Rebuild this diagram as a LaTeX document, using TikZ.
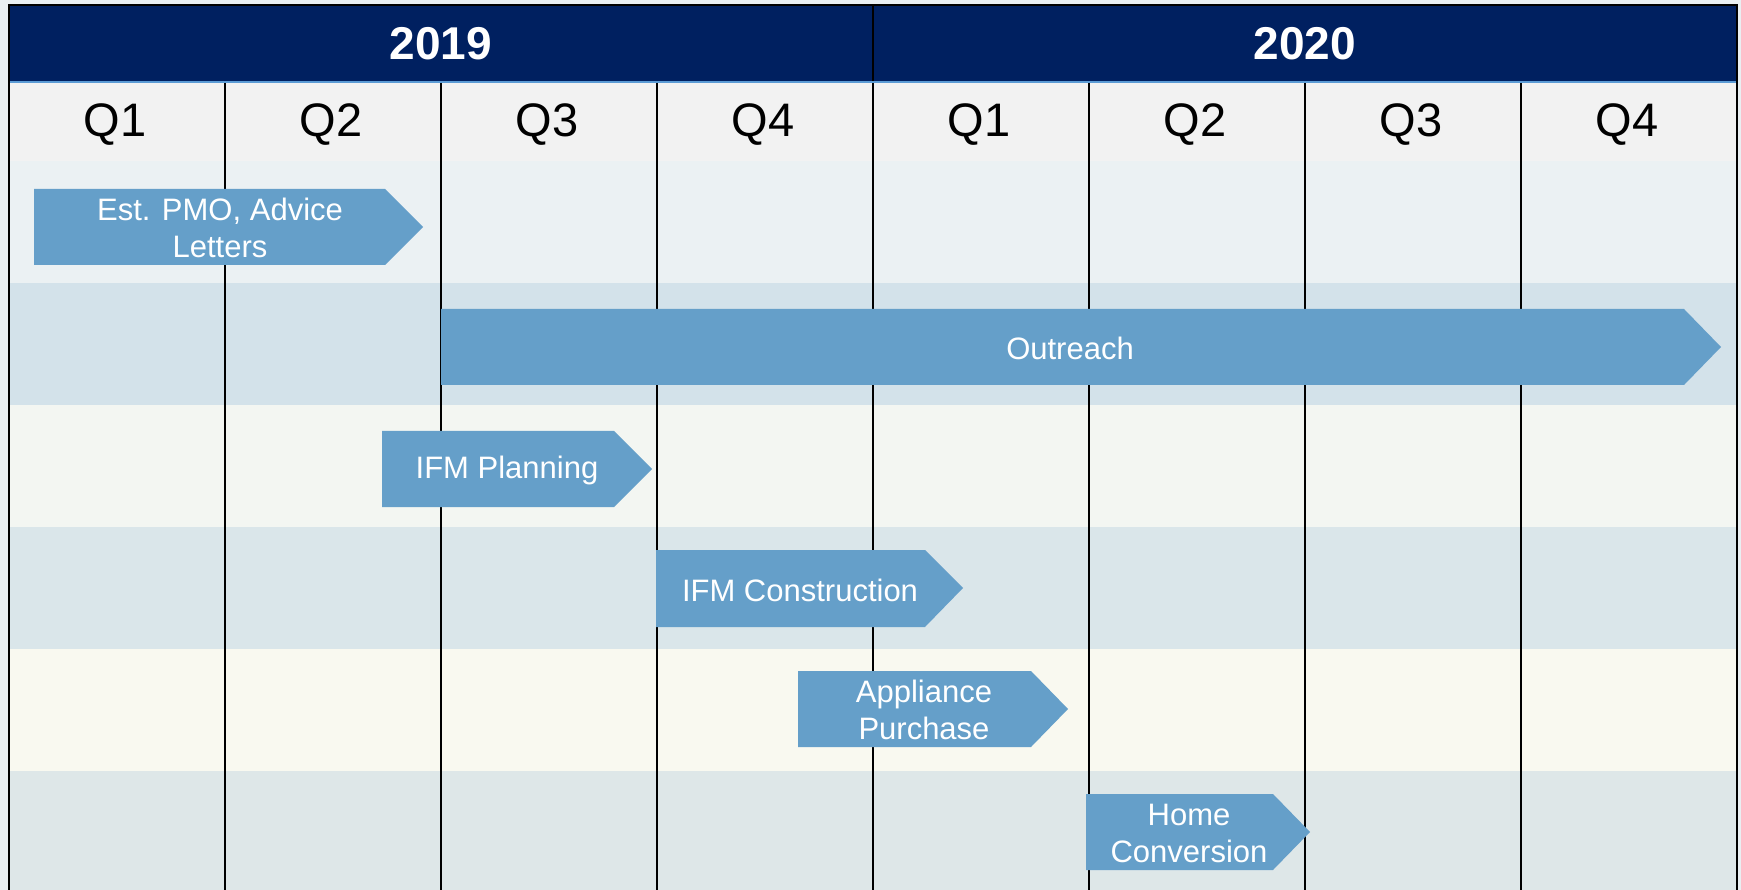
\documentclass[tikz,border=0pt]{standalone}
\usepackage{fontspec}
\setmainfont{Liberation Sans}
\usepackage{tikz}

\definecolor{navy}{HTML}{002060}
\definecolor{barblue}{HTML}{659FC9}
\definecolor{qgray}{HTML}{F2F2F2}
\definecolor{rowa}{HTML}{EBF1F3}
\definecolor{rowb}{HTML}{D3E2EA}
\definecolor{rowc}{HTML}{F3F6F2}
\definecolor{rowd}{HTML}{DAE6EA}
\definecolor{rowe}{HTML}{F9F9F0}
\definecolor{rowf}{HTML}{DEE7E8}
\definecolor{edgeblue}{HTML}{5B9BD5}
\definecolor{margin}{HTML}{E9EFF2}

\tikzset{
	bar/.style={fill=barblue},
	bartext/.style={text=white,align=center,font=\fontsize{31}{37}\selectfont},
	qtext/.style={font=\fontsize{47}{52}\selectfont},
	ytext/.style={text=white,font=\bfseries\fontsize{46}{50}\selectfont},
	grid/.style={line width=2pt,black}
}

\begin{document}
\begin{tikzpicture}[x=1pt,y=-1pt]
	\useasboundingbox (0,0) rectangle (1741,890);
	\fill[margin] (0,0) rectangle (1741,890);

	% rows
	\fill[qgray] (9,82) rectangle (1737,161);
	\fill[rowa] (9,161) rectangle (1737,283);
	\fill[rowb] (9,283) rectangle (1737,405);
	\fill[rowc] (9,405) rectangle (1737,527);
	\fill[rowd] (9,527) rectangle (1737,649);
	\fill[rowe] (9,649) rectangle (1737,771);
	\fill[rowf] (9,771) rectangle (1737,890);

	% header
	\draw[fill=navy,line width=2pt] (9,5) rectangle (1737,82);
	\draw[line width=2pt] (873,5) -- (873,82);
	\draw[edgeblue,line width=2pt] (10,82) -- (1736,82);
	\node[ytext] (y2019) at (441,44) {2019};
	\node[ytext] (y2020) at (1305,44) {2020};

	% quarters
	\node[qtext] (q1a) at (115,125) {Q1};
	\node[qtext] (q2a) at (331,125) {Q2};
	\node[qtext] (q3a) at (547,125) {Q3};
	\node[qtext] (q4a) at (763,125) {Q4};
	\node[qtext] (q1b) at (979,125) {Q1};
	\node[qtext] (q2b) at (1195,125) {Q2};
	\node[qtext] (q3b) at (1411,125) {Q3};
	\node[qtext] (q4b) at (1627,125) {Q4};

	\draw[grid] (9,83) -- (9,890);
	\draw[grid] (225,83) -- (225,890);
	\draw[grid] (441,83) -- (441,890);
	\draw[grid] (657,83) -- (657,890);
	\draw[grid] (873,83) -- (873,890);
	\draw[grid] (1089,83) -- (1089,890);
	\draw[grid] (1305,83) -- (1305,890);
	\draw[grid] (1521,83) -- (1521,890);
	\draw[grid] (1737,83) -- (1737,890);

	% bars
	\fill[bar] (34,189) -- (385,189) -- (423,227) -- (385,265) -- (34,265) -- cycle;
	\node[bartext] (pmo) at (220,228) {Est. PMO, Advice\\Letters};

	\fill[bar] (441,309) -- (1684,309) -- (1721,347) -- (1684,385) -- (441,385) -- cycle;
	\node[bartext] (outreach) at (1070,348) {Outreach};

	\fill[bar] (382,431) -- (614,431) -- (652,469) -- (614,507) -- (382,507) -- cycle;
	\node[bartext] (planning) at (507,470) {IFM Planning};

	\fill[bar] (656,550) -- (925,550) -- (963,588) -- (925,627) -- (656,627) -- cycle;
	\node[bartext] (construction) at (800,590) {IFM Construction};

	\fill[bar] (798,671) -- (1031,671) -- (1068,709) -- (1031,747) -- (798,747) -- cycle;
	\node[bartext] (appliance) at (924,710) {Appliance\\Purchase};

	\fill[bar] (1086,794) -- (1273,794) -- (1310,832) -- (1273,870) -- (1086,870) -- cycle;
	\node[bartext] (home) at (1189,833) {Home\\Conversion};
\end{tikzpicture}
\end{document}
